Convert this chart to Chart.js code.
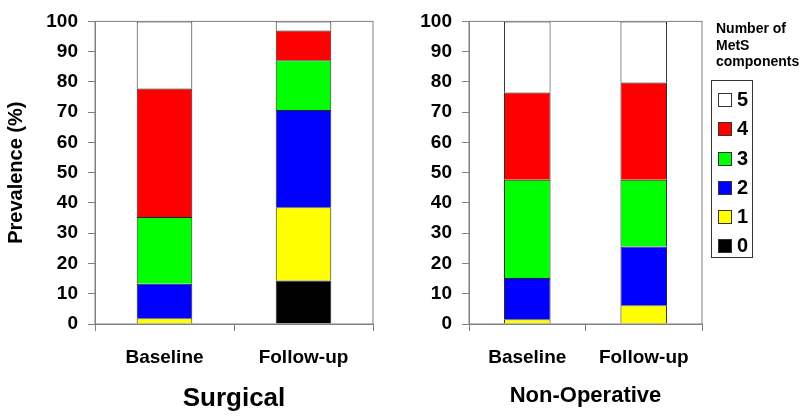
<!DOCTYPE html>
<html>
<head>
<meta charset="utf-8">
<script src="https://cdn.jsdelivr.net/npm/chart.js@4"></script>
<style>
  body { margin: 0; background: #fff; font-family: "Liberation Sans", Arial, sans-serif; }
  #wrap { position: relative; width: 800px; height: 417px; }
  .panel { position: absolute; top: 0; width: 400px; height: 417px; }
  #legendTitle { position: absolute; left: 716px; top: 20px; font-weight: bold; font-size: 14px; line-height: 16.5px; }
  #legendBox { position: absolute; left: 711px; top: 80px; width: 40px; height: 176px; border: 1px solid #333; }
  .item { position: absolute; left: 6px; height: 20px; }
  .sw { position: absolute; left: 0; top: 3px; width: 12px; height: 12px; border: 1px solid #333; }
  .lab { position: absolute; left: 19px; top: -2px; font-weight: bold; font-size: 20px; }
</style>
</head>
<body>
<div id="wrap">
  <div class="panel" style="left:0"><canvas id="surgicalChart"></canvas></div>
  <div class="panel" style="left:400px"><canvas id="nonopChart"></canvas></div>
  <div id="legendTitle">Number of<br>MetS<br>components</div>
  <div id="legendBox"></div>
</div>
<script>
const timepoints = ['Baseline', 'Follow-up'];
const components = ['0', '1', '2', '3', '4', '5'];
const colors = ['#000000', '#ffff00', '#0000ff', '#00ff00', '#ff0000', '#ffffff'];

// share (%) per number of components, [Baseline, Follow-up]
const surgical = [
  [0, 14.4],
  [1.9, 24.2],
  [11.4, 32.1],
  [22.1, 16.5],
  [42.4, 9.8],
  [22.2, 3.0]
];
const nonOperative = [
  [0, 0],
  [1.6, 6.2],
  [13.6, 19.4],
  [32.5, 22.1],
  [28.8, 32.1],
  [23.5, 20.2]
];
const yTicks = [0, 10, 20, 30, 40, 50, 60, 70, 80, 90, 100];

const fontFamily = '"Liberation Sans", Arial, sans-serif';
const axisGray = '#808080';

// gray frame round the plot area
const frame = {
  id: 'frame',
  afterDraw(chart) {
    const a = chart.chartArea;
    const ctx = chart.ctx;
    ctx.save();
    ctx.strokeStyle = axisGray;
    ctx.lineWidth = 1;
    ctx.strokeRect(a.left, a.top, a.right - a.left, a.bottom - a.top);
    ctx.restore();
  }
};

function makeChart(id, values, opts) {
  const ctx = document.getElementById(id).getContext('2d');
  return new Chart(ctx, {
    type: 'bar',
    data: {
      labels: timepoints,
      datasets: components.map((c, i) => ({
        label: c,
        data: values[i],
        backgroundColor: colors[i],
        borderColor: '#222',
        borderWidth: 1,
        barPercentage: 0.4,
        categoryPercentage: 1.0
      }))
    },
    options: {
      responsive: true,
      maintainAspectRatio: false,
      animation: false,
      layout: { padding: { top: 15, right: opts.padRight, left: 0, bottom: 0 } },
      plugins: {
        legend: { display: false },
        tooltip: { enabled: false }
      },
      scales: {
        x: {
          stacked: true,
          grid: { display: true, drawOnChartArea: false, color: axisGray, tickLength: 7 },
          border: { color: axisGray },
          ticks: { color: '#000', padding: 15, font: { family: fontFamily, size: 19, weight: 'bold' } },
          title: { display: true, text: opts.title, color: '#000', padding: { top: 4, bottom: opts.titlePad },
                   font: { family: fontFamily, size: opts.titleSize, weight: 'bold' } },
          afterFit(scale) { scale.height = 93; }
        },
        y: {
          stacked: true,
          min: 0,
          max: 100,
          afterBuildTicks(scale) { scale.ticks = yTicks.map(v => ({ value: v })); },
          grid: { display: true, drawOnChartArea: false, color: axisGray, tickLength: 7 },
          border: { color: axisGray },
          ticks: { color: '#000', padding: 10, font: { family: fontFamily, size: 19, weight: 'bold' } },
          title: { display: opts.yTitle, text: 'Prevalence (%)', color: '#000',
                   font: { family: fontFamily, size: 20, weight: 'bold' } },
          afterFit(scale) { scale.width = opts.yWidth; }
        }
      }
    },
    plugins: [frame]
  });
}

makeChart('surgicalChart', surgical, { title: 'Surgical', titleSize: 26, titlePad: 3, padRight: 27, yWidth: 95, yTitle: true });
makeChart('nonopChart', nonOperative, { title: 'Non-Operative', titleSize: 22, titlePad: 8, padRight: 98, yWidth: 69, yTitle: false });

// legend, top item is 5
const box = document.getElementById('legendBox');
const rowTops = [155, 126, 97, 68, 38, 9];
components.forEach((c, i) => {
  const it = document.createElement('div');
  it.className = 'item';
  it.style.top = rowTops[i] + 'px';
  it.innerHTML = '<span class="sw" style="background:' + colors[i] + '"></span><span class="lab">' + c + '</span>';
  box.appendChild(it);
});
</script>
</body>
</html>
